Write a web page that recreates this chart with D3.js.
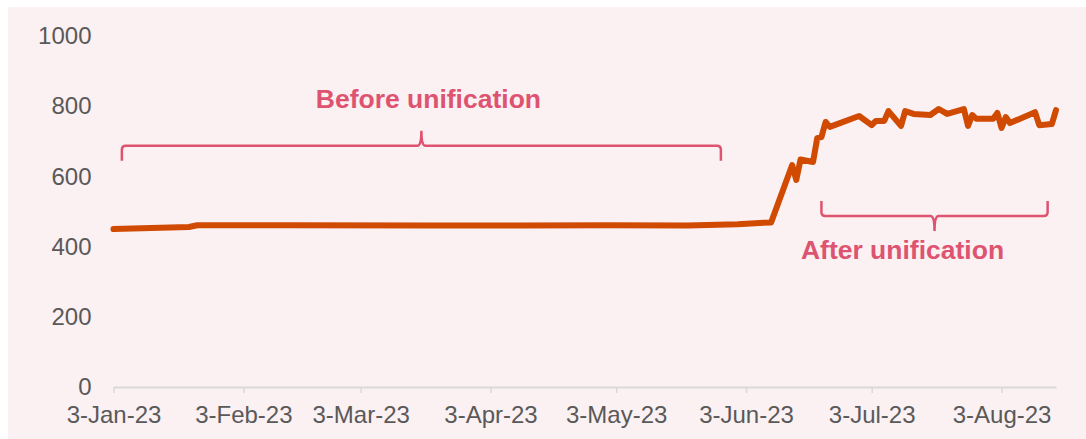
<!DOCTYPE html>
<html>
<head>
<meta charset="utf-8">
<script src="https://cdn.jsdelivr.net/npm/d3@7"></script>
<style>
  body { margin: 0; background: #ffffff; }
  svg text { font-family: "Liberation Sans", Arial, sans-serif; }
</style>
</head>
<body>
<div id="chart"></div>
<script>
// Données
const dates = [
  "2023-01-03", "2023-01-21", "2023-01-23", "2023-02-15", "2023-03-20",
  "2023-04-10", "2023-05-01", "2023-05-20", "2023-06-01", "2023-06-09",
  "2023-06-14", "2023-06-15", "2023-06-16", "2023-06-19", "2023-06-20",
  "2023-06-21", "2023-06-22", "2023-06-23", "2023-06-30", "2023-07-03",
  "2023-07-04", "2023-07-06", "2023-07-07", "2023-07-10", "2023-07-11",
  "2023-07-13", "2023-07-17", "2023-07-19", "2023-07-21", "2023-07-25",
  "2023-07-26", "2023-07-27", "2023-07-28", "2023-08-01", "2023-08-02",
  "2023-08-03", "2023-08-04", "2023-08-05", "2023-08-11", "2023-08-12",
  "2023-08-15", "2023-08-16"
];
const values = [
  450, 456, 461, 461, 460,
  460, 461, 460, 464, 469,
  632, 590, 648, 641, 709,
  712, 755, 741, 772, 746,
  758, 758, 786, 744, 786,
  778, 775, 792, 778, 792,
  744, 775, 764, 764, 781,
  738, 769, 752, 783, 746,
  749, 789
];
const xTicks = [
  "2023-01-03", "2023-02-03", "2023-03-03", "2023-04-03",
  "2023-05-03", "2023-06-03", "2023-07-03", "2023-08-03"
];
const yTicks = [0, 200, 400, 600, 800, 1000];
const xDomain = ["2023-01-03", "2023-08-16"];

// Annotations (période, texte)
const periods = [
  { label: "Before unification", start: "2023-01-05", end: "2023-05-28", value: 687, side: "up" },
  { label: "After unification", start: "2023-06-21", end: "2023-08-14", value: 487, side: "down" }
];

const width = 1086;
const height = 439;
const parse = d3.timeParse("%Y-%m-%d");

const data = dates.map((d, i) => ({ date: parse(d), value: values[i] }));

const svg = d3
  .select("#chart")
  .append("svg")
  .attr("width", width)
  .attr("height", height);

// Fond rose
svg
  .append("rect")
  .attr("x", 8)
  .attr("y", 7)
  .attr("width", width - 8)
  .attr("height", height - 7)
  .style("fill", "#fbf0f2");

const x = d3
  .scaleTime()
  .domain(xDomain.map(parse))
  .range([113.5, 1056]);

const y = d3.scaleLinear().domain([0, 1000]).range([387, 36]);

// Axe Y (labels seulement)
const yAxis = svg
  .append("g")
  .attr("transform", "translate(113.5,0)")
  .call(
    d3
      .axisLeft(y)
      .tickValues(yTicks)
      .tickFormat(d3.format("d"))
      .tickSize(0)
      .tickPadding(22)
  );
yAxis.select(".domain").remove();
yAxis
  .selectAll("text")
  .style("font-size", "24px")
  .style("fill", "#595959");

// Axe X
const xAxis = svg
  .append("g")
  .attr("transform", "translate(0,387)")
  .call(
    d3
      .axisBottom(x)
      .tickValues(xTicks.map(parse))
      .tickFormat(d3.timeFormat("%-d-%b-%y"))
      .tickSizeInner(6)
      .tickSizeOuter(0)
      .tickPadding(13)
  );
xAxis.select(".domain").style("stroke", "#d9d9d9").style("stroke-width", 2);
xAxis.selectAll(".tick line").style("stroke", "#d9d9d9").style("stroke-width", 1.5);
xAxis
  .selectAll("text")
  .style("font-size", "24px")
  .style("fill", "#595959");

// Courbe
const line = d3
  .line()
  .x((d) => x(d.date))
  .y((d) => y(d.value));

svg
  .append("path")
  .datum(data)
  .attr("d", line)
  .style("fill", "none")
  .style("stroke", "#d04a02")
  .style("stroke-width", 6)
  .style("stroke-linejoin", "round")
  .style("stroke-linecap", "round");

// Accolades + textes
const pink = "#de5470";
periods.forEach((p) => {
  const x1 = x(parse(p.start));
  const x2 = x(parse(p.end));
  const xc = (x1 + x2) / 2;
  const yl = y(p.value);
  const dir = p.side === "up" ? 1 : -1; // sens des extrémités
  const arm = 15 * dir;
  const tip = -15 * dir;
  const r = 4;
  const path = [
    `M${x1},${yl + arm}`,
    `L${x1},${yl + r * dir}`,
    `Q${x1},${yl} ${x1 + r},${yl}`,
    `L${xc - r},${yl}`,
    `Q${xc},${yl} ${xc},${yl + tip}`,
    `Q${xc},${yl} ${xc + r},${yl}`,
    `L${x2 - r},${yl}`,
    `Q${x2},${yl} ${x2},${yl + r * dir}`,
    `L${x2},${yl + arm}`
  ].join(" ");
  svg
    .append("path")
    .attr("d", path)
    .style("fill", "none")
    .style("stroke", pink)
    .style("stroke-width", 2.5);

  svg
    .append("text")
    .attr("x", xc + (p.side === "up" ? 7 : -32))
    .attr("y", p.side === "up" ? yl - 38 : yl + 43)
    .attr("text-anchor", "middle")
    .style("font-size", "26.5px")
    .style("font-weight", "bold")
    .style("fill", pink)
    .text(p.label);
});
</script>
</body>
</html>
